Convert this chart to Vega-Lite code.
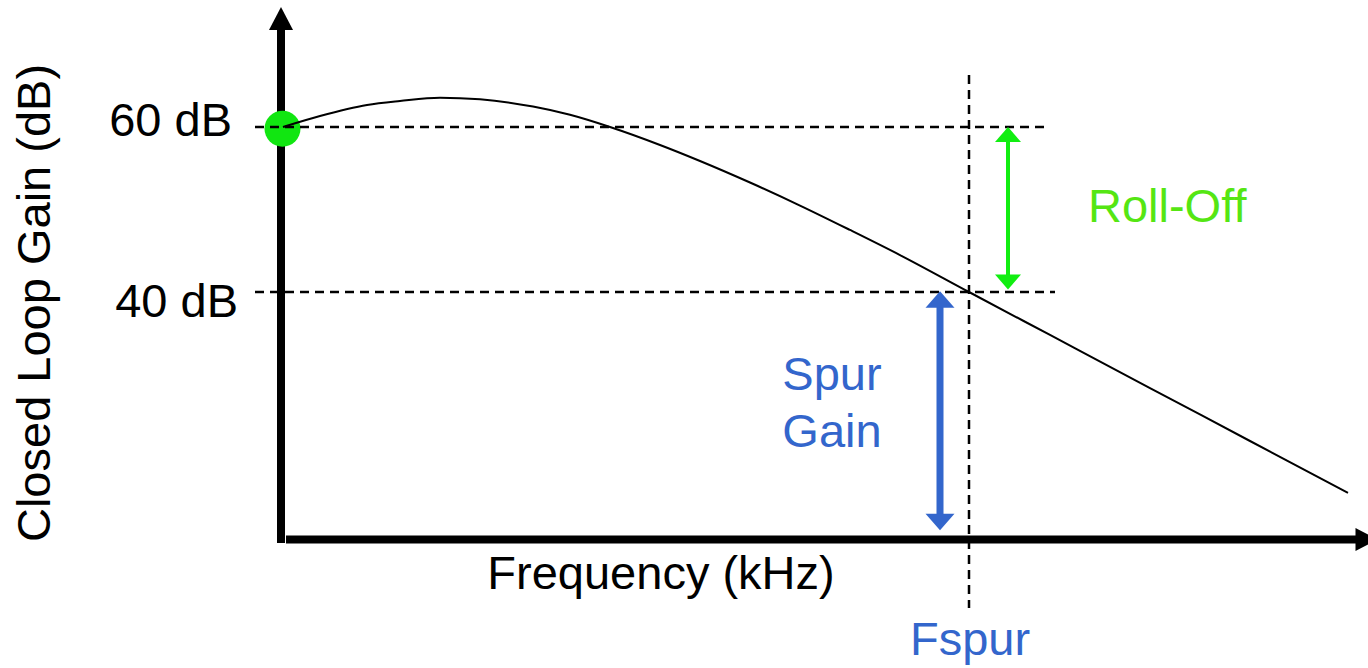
{
  "$schema": "https://vega.github.io/schema/vega-lite/v6.json",
  "width": 1368,
  "height": 668,
  "padding": 0,
  "autosize": {"type": "fit", "contains": "padding"},
  "background": "white",
  "config": {"view": {"stroke": null}},
  "encoding": {
    "x": {"field": "f", "type": "quantitative", "scale": {"domain": [-28.1, 108.7], "nice": false, "zero": false}, "axis": null},
    "y": {"field": "db", "type": "quantitative", "scale": {"domain": [-5.576, 75.394], "nice": false, "zero": false}, "axis": null}
  },
  "layer": [
    {
      "data": {"values": [
        {"f": 0, "f2": 0, "db": 9.58, "db2": 71.76},
        {"f": 0.5, "f2": 107.5, "db": 10, "db2": 10}
      ]},
      "mark": {"type": "rule", "color": "black", "strokeWidth": 8, "strokeCap": "butt"},
      "encoding": {"x2": {"field": "f2"}, "y2": {"field": "db2"}}
    },
    {
      "data": {"values": [{"f": 0, "db": 73.15}]},
      "mark": {"type": "point", "shape": "M0,-0.958L1,0.958L-1,0.958Z", "size": 576, "filled": true, "color": "black", "opacity": 1}
    },
    {
      "data": {"values": [{"f": 108.55, "db": 10}]},
      "mark": {"type": "point", "shape": "M0.958,0L-0.958,-1L-0.958,1Z", "size": 529, "filled": true, "color": "black", "opacity": 1, "clip": true}
    },
    {
      "data": {"values": [{"f": 0.15, "db": 59.8}]},
      "mark": {"type": "point", "shape": "circle", "size": 1296, "filled": true, "color": "#11e611", "opacity": 1}
    },
    {
      "data": {"values": [
        {"f": -2.6, "f2": 76.9, "db": 60, "db2": 60},
        {"f": -2.6, "f2": 77.4, "db": 40, "db2": 40},
        {"f": 68.8, "f2": 68.8, "db": 66.3, "db2": 1.7}
      ]},
      "mark": {"type": "rule", "color": "black", "strokeWidth": 2.5, "strokeDash": [9, 6]},
      "encoding": {"x2": {"field": "f2"}, "y2": {"field": "db2"}}
    },
    {
      "data": {"values": [
        {"f": 0.2, "db": 60.0},
        {"f": 3.9, "db": 61.33},
        {"f": 8.6, "db": 62.67},
        {"f": 11.9, "db": 63.15},
        {"f": 15.9, "db": 63.55},
        {"f": 19.9, "db": 63.36},
        {"f": 25.2, "db": 62.48},
        {"f": 28.9, "db": 61.48},
        {"f": 32.9, "db": 60.0},
        {"f": 37.9, "db": 57.82},
        {"f": 41.9, "db": 55.88},
        {"f": 46.9, "db": 53.27},
        {"f": 51.9, "db": 50.48},
        {"f": 56.9, "db": 47.52},
        {"f": 61.9, "db": 44.48},
        {"f": 68.8, "db": 40.0},
        {"f": 76.9, "db": 34.79},
        {"f": 86.9, "db": 28.36},
        {"f": 96.9, "db": 21.94},
        {"f": 106.7, "db": 15.64}
      ]},
      "mark": {"type": "line", "color": "black", "strokeWidth": 2, "interpolate": "monotone"}
    },
    {
      "data": {"values": [{"f": 72.7, "f2": 72.7, "db": 58.5, "db2": 41.5}]},
      "mark": {"type": "rule", "color": "#11ee11", "strokeWidth": 4},
      "encoding": {"x2": {"field": "f2"}, "y2": {"field": "db2"}}
    },
    {
      "data": {"values": [{"f": 72.7, "db": 59.09}]},
      "mark": {"type": "point", "shape": "M0,-0.577L1,0.577L-1,0.577Z", "size": 676, "filled": true, "color": "#11ee11", "opacity": 1}
    },
    {
      "data": {"values": [{"f": 72.7, "db": 41.21}]},
      "mark": {"type": "point", "shape": "M0,0.577L1,-0.577L-1,-0.577Z", "size": 676, "filled": true, "color": "#11ee11", "opacity": 1}
    },
    {
      "data": {"values": [{"f": 65.9, "f2": 65.9, "db": 38.42, "db2": 12.97}]},
      "mark": {"type": "rule", "color": "#3366cc", "strokeWidth": 7},
      "encoding": {"x2": {"field": "f2"}, "y2": {"field": "db2"}}
    },
    {
      "data": {"values": [{"f": 65.9, "db": 39.09}]},
      "mark": {"type": "point", "shape": "M0,-0.577L1,0.577L-1,0.577Z", "size": 841, "filled": true, "color": "#3366cc", "opacity": 1}
    },
    {
      "data": {"values": [{"f": 65.9, "db": 12.12}]},
      "mark": {"type": "point", "shape": "M0,0.577L1,-0.577L-1,-0.577Z", "size": 841, "filled": true, "color": "#3366cc", "opacity": 1}
    },
    {
      "data": {"values": [
        {"f": -4.9, "db": 58.91, "label": "60 dB"},
        {"f": -4.3, "db": 37.0, "label": "40 dB"}
      ]},
      "mark": {"type": "text", "font": "Liberation Sans", "fontSize": 47, "align": "right", "baseline": "alphabetic", "color": "black"},
      "encoding": {"text": {"field": "label"}}
    },
    {
      "data": {"values": [{"f": 38.0, "db": 4.0, "label": "Frequency (kHz)"}]},
      "mark": {"type": "text", "font": "Liberation Sans", "fontSize": 47, "align": "center", "baseline": "alphabetic", "color": "black"},
      "encoding": {"text": {"field": "label"}}
    },
    {
      "data": {"values": [{"f": -23.1, "db": 38.67, "label": "Closed Loop Gain (dB)"}]},
      "mark": {"type": "text", "font": "Liberation Sans", "fontSize": 47, "align": "center", "baseline": "alphabetic", "angle": 270, "color": "black"},
      "encoding": {"text": {"field": "label"}}
    },
    {
      "data": {"values": [
        {"f": 55.1, "db": 28.12, "label": "Spur"},
        {"f": 55.1, "db": 21.25, "label": "Gain"},
        {"f": 68.9, "db": -4.0, "label": "Fspur"}
      ]},
      "mark": {"type": "text", "font": "Liberation Sans", "fontSize": 47, "align": "center", "baseline": "alphabetic", "color": "#3366cc"},
      "encoding": {"text": {"field": "label"}}
    },
    {
      "data": {"values": [{"f": 80.7, "db": 48.45, "label": "Roll-Off"}]},
      "mark": {"type": "text", "font": "Liberation Sans", "fontSize": 47, "align": "left", "baseline": "alphabetic", "color": "#55e613"},
      "encoding": {"text": {"field": "label"}}
    }
  ]
}
